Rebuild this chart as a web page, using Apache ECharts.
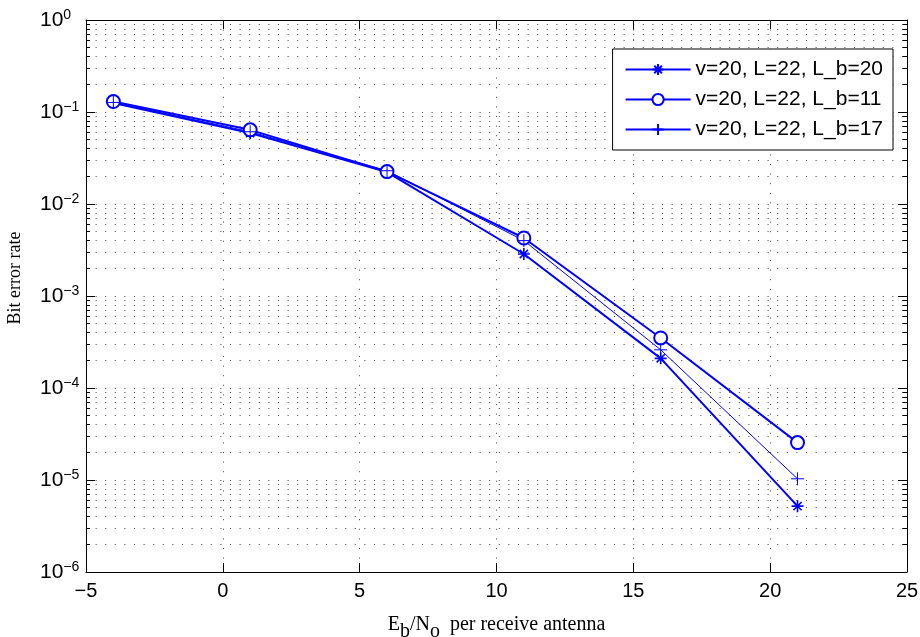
<!DOCTYPE html>
<html>
<head>
<meta charset="utf-8">
<style>
  html, body { margin: 0; padding: 0; background: #fff; }
  #chart { width: 920px; height: 637px; }
</style>
<script src="https://cdn.jsdelivr.net/npm/echarts@6/dist/echarts.min.js"></script>
</head>
<body>
<div id="chart"></div>
<script>
// Eb/No (dB) points
var snr = [-4, 1, 6, 11, 16, 21]
// bit error rate per setting
var berLb20 = [0.125, 0.059, 0.0222, 0.00286, 2.1e-4, 5.2e-6]
var berLb11 = [0.13, 0.064, 0.0225, 0.00427, 3.5e-4, 2.55e-5]
var berLb17 = [0.127, 0.061, 0.023, 0.0040, 2.6e-4, 1.03e-5]
var seriesNames = ['v=20, L=22, L_b=20', 'v=20, L=22, L_b=11', 'v=20, L=22, L_b=17']

// y axis decades and the 2..9 grid in between
var decades = [1e-6, 1e-5, 1e-4, 1e-3, 1e-2, 1e-1, 1]
var minorVals = []
decades.slice(0, -1).forEach(function (d) {
  for (var k = 2; k <= 9; k++) minorVals.push(+(k * d).toPrecision(3))
})

var blue = '#0000ff'
var sans = 'Liberation Sans'
var serif = 'Liberation Serif'
var dotted = { color: '#444', width: 1, type: [1, 8.6] }
var starPath = 'path://M5,0L5,10M0,5L10,5M1.6,1.6L8.4,8.4M1.6,8.4L8.4,1.6'
var plusPath = 'path://M5,0L5,10M0,5L10,5'

function pairs(ys) {
  return snr.map(function (x, i) { return [x, ys[i]] })
}

function logAxis(extra) {
  var base = {
    type: 'log',
    logBase: 10,
    min: 1e-6,
    max: 1,
    axisLine: { show: false, onZero: false },
    axisLabel: { show: false },
    splitLine: { show: false },
    axisTick: { show: false }
  }
  return Object.assign(base, extra)
}

var chart = echarts.init(document.getElementById('chart'))

chart.setOption({
  animation: false,
  backgroundColor: '#fff',
  grid: { left: 86, right: 13, top: 20, bottom: 65, outerBoundsMode: 'none' },
  legend: {
    orient: 'vertical',
    right: 27,
    top: 49,
    padding: [10, 10, 10, 12],
    itemWidth: 65,
    itemHeight: 14,
    itemGap: 9,
    borderColor: '#000',
    borderWidth: 1,
    backgroundColor: '#fff',
    textStyle: { fontFamily: sans, fontSize: 21, color: '#000', lineHeight: 20 },
    data: seriesNames
  },
  xAxis: [{
    type: 'value',
    position: 'bottom',
    min: -5,
    max: 25,
    interval: 5,
    name: '{n|E}{sub|b}{n|/N}{sub|o}{n|  per receive antenna}',
    nameLocation: 'middle',
    nameGap: 36,
    nameTextStyle: {
      rich: {
        n: { fontFamily: serif, fontSize: 20, color: '#000' },
        sub: { fontFamily: serif, fontSize: 20, color: '#000', padding: [14, 0, 0, 0] }
      }
    },
    axisLine: { onZero: false, lineStyle: { color: '#000', width: 1 } },
    axisTick: { inside: true, length: 9, lineStyle: { color: '#000' } },
    axisLabel: {
      fontFamily: sans, fontSize: 20, color: '#000', margin: 9,
      formatter: function (v) { return String(v).replace('-', '\u2212') }
    },
    splitLine: { show: true, lineStyle: dotted }
  }, {
    type: 'value',
    position: 'top',
    min: -5,
    max: 25,
    interval: 5,
    axisLine: { onZero: false, lineStyle: { color: '#000', width: 1 } },
    axisTick: { inside: true, length: 9, lineStyle: { color: '#000' } },
    axisLabel: { show: false },
    splitLine: { show: false }
  }],
  yAxis: [
    logAxis({
      position: 'left',
      name: 'Bit error rate',
      nameLocation: 'middle',
      nameGap: 62,
      nameTextStyle: { fontFamily: serif, fontSize: 18, color: '#000', padding: [0, 0, 0, 36] },
      axisLine: { show: true, onZero: false, lineStyle: { color: '#000', width: 1 } },
      axisTick: { show: true, inside: true, length: 9, lineStyle: { color: '#000' }, customValues: decades },
      axisLabel: {
        show: true,
        customValues: decades,
        align: 'left',
        margin: 46,
        formatter: function (v) {
          var e = Math.round(Math.log10(v))
          return '{b|10}{s|' + String(e).replace('-', '\u2212') + '}'
        },
        rich: {
          b: { fontFamily: sans, fontSize: 21, color: '#000', lineHeight: 24 },
          s: { fontFamily: sans, fontSize: 14, color: '#000', verticalAlign: 'top', lineHeight: 14, padding: [0, 0, 12, 0] }
        }
      },
      splitLine: { show: true, lineStyle: dotted }
    }),
    logAxis({
      position: 'left',
      axisTick: { show: true, inside: true, length: 4, lineStyle: { color: '#000' }, customValues: minorVals },
      splitLine: { show: true, lineStyle: dotted }
    }),
    logAxis({
      position: 'right',
      axisLine: { show: true, onZero: false, lineStyle: { color: '#000', width: 1 } },
      axisTick: { show: true, inside: true, length: 9, lineStyle: { color: '#000' }, customValues: decades }
    }),
    logAxis({
      position: 'right',
      axisTick: { show: true, inside: true, length: 4, lineStyle: { color: '#000' }, customValues: minorVals }
    })
  ],
  series: [{
    name: seriesNames[0],
    type: 'line',
    data: pairs(berLb20),
    symbol: starPath,
    symbolSize: 12,
    lineStyle: { color: blue, width: 2 },
    itemStyle: { color: blue, borderColor: blue, borderWidth: 1.6 }
  }, {
    name: seriesNames[1],
    type: 'line',
    data: pairs(berLb11),
    symbol: 'emptyCircle',
    symbolSize: 13,
    lineStyle: { color: blue, width: 2 },
    itemStyle: { color: blue, borderColor: blue, borderWidth: 2 }
  }, {
    name: seriesNames[2],
    type: 'line',
    data: pairs(berLb17),
    symbol: plusPath,
    symbolSize: 13,
    lineStyle: { color: blue, width: 1 },
    itemStyle: { color: blue, borderColor: blue, borderWidth: 1 }
  }]
})
</script>
</body>
</html>
